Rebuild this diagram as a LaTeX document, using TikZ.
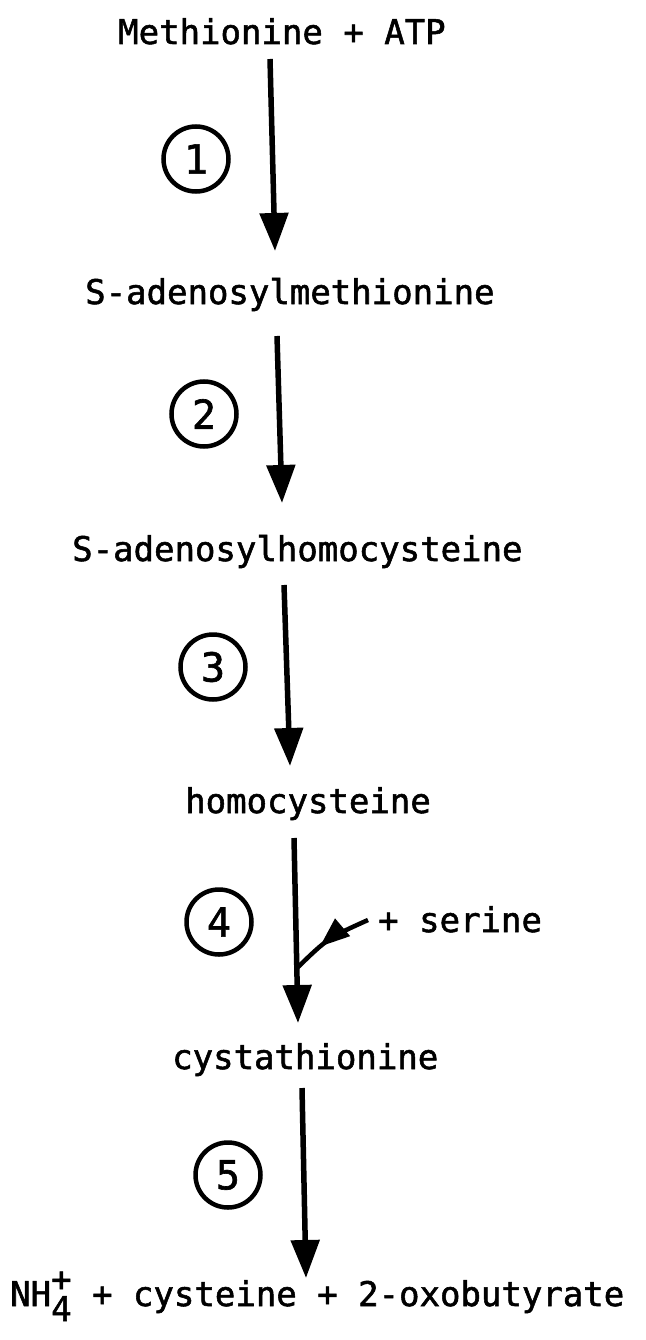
\documentclass[tikz,border=0pt]{standalone}
\usepackage{fontspec}
\newfontfamily\typew[FakeStretch=1.0,FakeBold=1.6]{DejaVu Sans Mono}
\newfontfamily\digitf[FakeBold=1.6]{DejaVu Sans Mono}
\usetikzlibrary{arrows.meta,decorations.markings}
\tikzset{
  label/.style={inner sep=0pt, anchor=base west, font=\typew\fontsize{34}{34}\selectfont},
  rxn/.style={line width=5.5pt, -{Triangle[length=38pt,width=28pt]}},
  stepnum/.style={circle, draw, line width=4.5pt, minimum size=65pt, inner sep=0pt,
                  font=\digitf\fontsize{40}{40}\selectfont},
  branch/.style={line width=4.5pt, postaction={decorate},
    decoration={markings, mark=at position 0.64 with {\arrow{Triangle[length=30pt,width=22pt]}}}}
}
\begin{document}
\begin{tikzpicture}[x=1pt,y=-1pt]
\useasboundingbox (0,0) rectangle (645,1340);
\fill[white] (0,0) rectangle (645,1340);

\node[label] (m1) at (118,44) {Methionine + ATP};
\node[label] (m2) at (85,304) {S-adenosylmethionine};
\node[label] (m3) at (72,561) {S-adenosylhomocysteine};
\node[label] (m4) at (185,813) {homocysteine};
\node[label] (m5) at (172,1069) {cystathionine};
\node[label] (m6) at (10,1306) {NH\rlap{\raisebox{15pt}{+}}\raisebox{-15pt}{4} + cysteine + 2-oxobutyrate};
\node[label] (ser) at (378,932) {+ serine};

\node[stepnum] (c1) at (196,159) {1};
\node[stepnum] (c2) at (204,414) {2};
\node[stepnum] (c3) at (213,667) {3};
\node[stepnum] (c4) at (219,922) {4};
\node[stepnum] (c5) at (228,1175) {5};

\coordinate (a1s) at (270,59);  \coordinate (a1e) at (275,251);
\coordinate (a2s) at (277,336); \coordinate (a2e) at (282,503);
\coordinate (a3s) at (284,585); \coordinate (a3e) at (290,766);
\coordinate (a4s) at (294,838); \coordinate (a4e) at (298,1023);
\coordinate (a5s) at (302,1088); \coordinate (a5e) at (306,1278);
\coordinate (sr) at (368,920);
\coordinate (jn) at (297,968);

\draw[rxn] (a1s) -- (a1e);
\draw[rxn] (a2s) -- (a2e);
\draw[rxn] (a3s) -- (a3e);
\draw[rxn] (a4s) -- (a4e);
\draw[rxn] (a5s) -- (a5e);
\draw[branch] (sr) .. controls (328,938) .. (jn);
\end{tikzpicture}
\end{document}
